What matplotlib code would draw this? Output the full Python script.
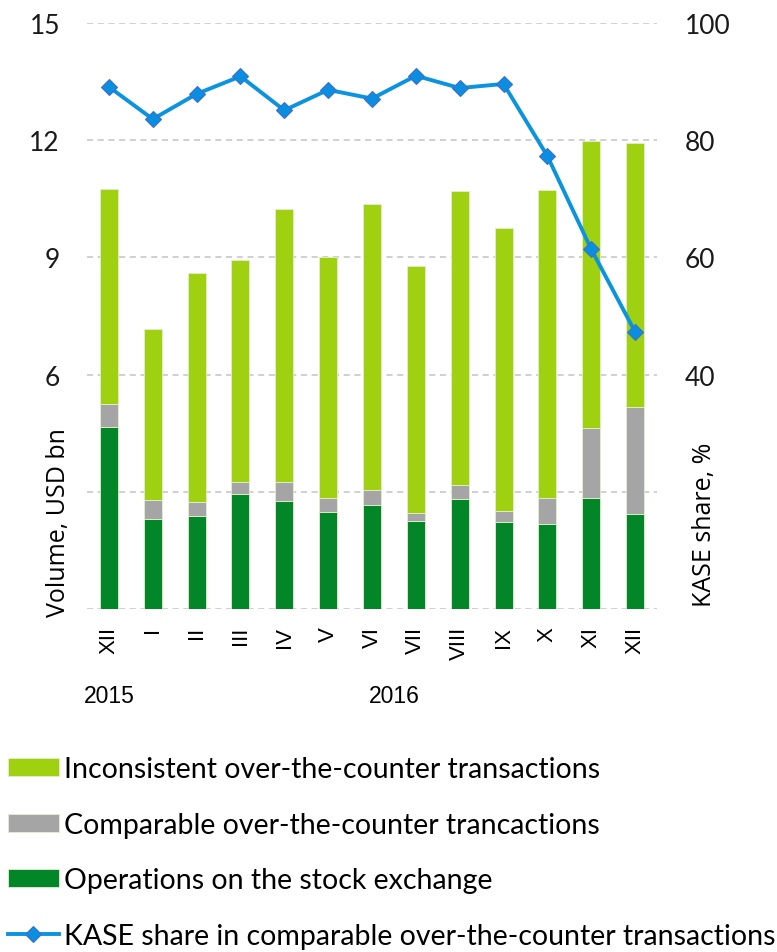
import matplotlib
matplotlib.use('Agg')
import matplotlib.pyplot as plt
from matplotlib.transforms import blended_transform_factory
import numpy as np

# months, Dec 2015 .. Dec 2016
months = ['XII', 'I', 'II', 'III', 'IV', 'V', 'VI', 'VII', 'VIII', 'IX', 'X', 'XI', 'XII']
years = ['2015', '2016']

# USD bn
exchange = [4.67, 2.31, 2.39, 2.95, 2.77, 2.49, 2.67, 2.24, 2.82, 2.23, 2.18, 2.85, 2.44]
comparable = [0.57, 0.47, 0.34, 0.31, 0.47, 0.34, 0.38, 0.23, 0.35, 0.27, 0.65, 1.79, 2.72]
inconsistent = [5.52, 4.40, 5.86, 5.67, 6.99, 6.18, 7.32, 6.31, 7.53, 7.26, 7.89, 7.35, 6.78]
# KASE share, %
share = [89.1, 83.6, 87.9, 90.9, 85.1, 88.6, 87.1, 91.0, 88.9, 89.6, 77.3, 61.4, 47.3]

labels = ['Inconsistent over-the-counter transactions',
          'Comparable over-the-counter trancactions',
          'Operations on the stock exchange',
          'KASE share in comparable over-the-counter transactions']

c_light = '#9fd110'
c_gray = '#a5a5a5'
c_dark = '#028628'
c_line = '#0a93de'

thin = ['Lato', 'DejaVu Sans']
plain = ['Liberation Sans', 'DejaVu Sans']

fig = plt.figure(figsize=(7.77, 9.53), dpi=100)
ax = fig.add_axes([87/777, 1-610/953, 570/777, 586/953])
ax2 = ax.twinx()

x = np.arange(len(months))
w = 0.41
ec = '#e4efd0'
b1 = ax.bar(x, exchange, w, color=c_dark, edgecolor=ec, linewidth=0.6, zorder=3)
b2 = ax.bar(x, comparable, w, bottom=exchange, color=c_gray, edgecolor=ec, linewidth=0.6, zorder=3)
bottom3 = np.array(exchange) + np.array(comparable)
b3 = ax.bar(x, inconsistent, w, bottom=bottom3, color=c_light, edgecolor=ec, linewidth=0.6, zorder=3)

ln, = ax2.plot(x, share, color=c_line, lw=2.8, marker='D', markersize=8.5,
               markerfacecolor='#0a8fe0', markeredgecolor='#3f6fc8', markeredgewidth=0.8, zorder=4)

ax.set_xlim(-0.5, len(months) - 0.5)
ax.set_ylim(0, 15)
ax2.set_ylim(0, 100)

ax.set_yticks([0, 3, 6, 9, 12, 15])
ax.set_yticklabels(['', '', '6', '9', '12', '15'])
ax2.set_yticks([0, 20, 40, 60, 80, 100])
ax2.set_yticklabels(['', '', '40', '60', '80', '100'])

for a in (ax, ax2):
    for s in a.spines.values():
        s.set_visible(False)
    a.tick_params(length=0)
ax.tick_params(axis='y', pad=19.5)
ax2.tick_params(axis='y', pad=20)
for t in ax.get_yticklabels() + ax2.get_yticklabels():
    t.set_family(thin)
    t.set_fontweight('normal')
    t.set_fontsize(19)
    t.set_color('#1a1a1a')

ax.yaxis.grid(True, linestyle=(0, (4, 3)), color='#c4c4c4', linewidth=1.1)
ax.set_axisbelow(True)

ax.set_xticks(x)
ax.set_xticklabels(months, rotation=90, fontsize=16, family=plain, va='top', ha='center')
ax.tick_params(axis='x', pad=12)

tr = blended_transform_factory(ax.transData, fig.transFigure)
ax.text(0, 1-697/953, years[0], transform=tr, ha='center', va='center', fontsize=16.5, family=plain)
ax.text(6.5, 1-697/953, years[1], transform=tr, ha='center', va='center', fontsize=16.5, family=plain)

fig.text(58/777, 1-523/953, 'Volume, USD bn', rotation=90, ha='center', va='center',
         fontsize=18, family=['Open Sans', 'DejaVu Sans'])
fig.text(705/777, 1-525/953, 'KASE share, %', rotation=90, ha='center', va='center',
         fontsize=18, family=['Open Sans', 'DejaVu Sans'])

leg = fig.legend([b3, b2, b1, ln], labels, loc='upper left', bbox_to_anchor=(8/777, 1-757/953),
                 frameon=False, borderpad=0, borderaxespad=0, handlelength=1.78,
                 handletextpad=0.2, labelspacing=1.04, handleheight=0.6,
                 prop={'family': thin, 'weight': 'normal', 'size': 20.5})

fig.savefig('out.png', dpi=100)
